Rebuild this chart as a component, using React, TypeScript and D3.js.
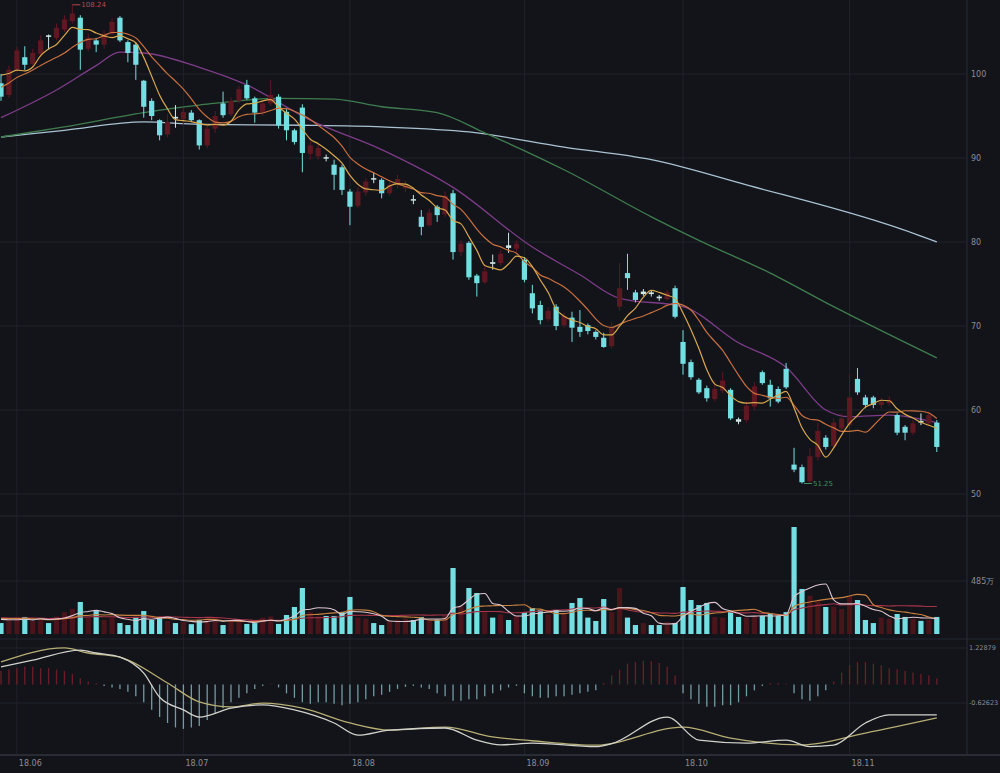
import React from "react";
import * as d3 from "d3";

const WIDTH = 1000;
const HEIGHT = 773;

const monthLabels = ["18.06", "18.07", "18.08", "18.09", "18.10", "18.11"];
const monthStartIndex = [2, 23, 44, 66, 86, 107];
const priceTicks = [100, 90, 80, 70, 60, 50];
const volumeTickValue = 485;
const volumeTickLabel = "485万";
const macdTicks = [1.22879, -0.62623];
const highLabel = "108.24";
const lowLabel = "51.25";

const priorCloses = [95.5, 96.2, 97.0, 97.8, 98.5, 99.5, 100.8, 101.5, 100.2];

const opens = [
  98.9, 97.5, 100.5, 102.0, 101.2, 102.4, 104.6, 104.3, 105.3, 106.3,
  106.7, 103.0, 104.0, 103.5, 104.8, 106.7, 103.8, 103.5, 99.2, 96.8,
  94.5, 92.8, 94.9, 94.6, 95.4, 94.5, 91.5, 93.5, 96.5, 95.2,
  96.8, 98.7, 97.1, 95.5, 96.5, 97.3, 95.5, 93.3, 96.0, 90.5,
  90.2, 90.1, 89.2, 88.9, 86.0, 84.3, 85.9, 87.6, 87.4, 85.8,
  86.8, 86.4, 85.1, 83.0, 82.0, 84.2, 83.3, 85.8, 78.8, 79.9,
  76.0, 75.2, 77.6, 77.5, 79.6, 79.2, 77.9, 73.9, 72.5, 70.8,
  72.3, 70.1, 71.0, 69.9, 70.1, 69.3, 68.6, 67.6, 72.3, 76.3,
  74.0, 73.8, 74.0, 73.5, 73.2, 74.5, 68.1, 65.7, 63.6, 62.6,
  61.3, 62.3, 62.4, 58.9, 58.8, 60.4, 64.5, 63.0, 62.5, 64.9,
  53.5, 53.2, 51.5, 54.4, 56.7, 55.7, 57.8, 58.2, 63.7, 61.5,
  61.5, 60.6, 60.8, 59.4, 58.0, 57.3, 58.7, 58.4, 58.5,
];
const closes = [
  97.3, 100.5, 102.8, 101.1, 102.5, 104.0, 104.5, 105.5, 106.5, 107.2,
  102.9, 104.3, 103.5, 104.8, 106.2, 104.0, 102.5, 101.1, 96.1, 95.0,
  92.7, 94.3, 94.7, 95.5, 94.5, 91.5, 93.5, 95.0, 95.1, 96.8,
  98.2, 97.1, 95.4, 96.5, 97.5, 93.9, 93.3, 91.9, 90.6, 91.5,
  91.2, 90.0, 88.0, 86.2, 84.2, 86.0, 87.2, 87.5, 85.8, 86.8,
  87.5, 86.9, 85.0, 81.8, 83.5, 83.2, 85.5, 78.8, 79.8, 75.8,
  75.1, 76.5, 77.4, 78.6, 79.3, 79.8, 75.5, 72.1, 70.7, 71.8,
  70.0, 71.2, 69.8, 69.3, 69.4, 68.7, 67.5, 69.8, 74.5, 75.7,
  73.1, 74.1, 73.8, 73.3, 74.0, 71.1, 65.5, 63.9, 62.1, 61.4,
  62.5, 63.5, 59.0, 58.6, 60.5, 62.8, 63.2, 61.4, 61.0, 62.7,
  52.9, 51.4, 54.5, 57.5, 55.6, 58.5, 59.0, 61.5, 62.1, 60.6,
  60.6, 61.0, 61.2, 57.3, 57.3, 58.4, 58.5, 59.4, 55.6,
];
const highs = [
  100.0, 101.0, 103.2, 103.3, 103.0, 104.6, 104.7, 106.0, 107.0, 108.24,
  107.0, 104.8, 104.3, 105.2, 106.6, 106.9, 104.0, 103.7, 99.3, 97.1,
  94.6, 95.2, 96.3, 96.0, 95.7, 94.6, 94.0, 95.6, 97.9, 97.2,
  98.6, 99.3, 97.3, 97.0, 99.3, 97.6, 95.8, 93.5, 96.4, 92.0,
  91.8, 90.4, 89.8, 89.2, 86.3, 86.5, 87.6, 88.3, 87.6, 87.2,
  88.0, 87.3, 85.6, 83.8, 84.0, 84.4, 86.0, 86.2, 80.2, 80.1,
  76.2, 77.0, 78.5, 79.0, 81.1, 80.2, 78.2, 74.9, 73.0, 72.2,
  72.6, 71.6, 71.7, 71.9, 70.3, 69.5, 69.2, 70.5, 77.5, 78.6,
  74.3, 74.4, 74.2, 73.7, 74.3, 74.8, 69.5, 66.0, 63.8, 62.9,
  63.5, 64.5, 62.6, 59.1, 61.0, 63.3, 64.7, 63.6, 62.8, 65.6,
  55.5, 53.5, 55.5, 58.5, 57.0, 59.0, 59.6, 64.2, 65.0, 61.8,
  61.7, 61.4, 61.6, 59.6, 58.2, 58.8, 59.6, 59.8, 58.8,
];
const lows = [
  96.8, 97.2, 100.2, 100.5, 100.8, 102.0, 102.9, 104.0, 105.0, 106.0,
  100.5, 102.7, 102.6, 103.0, 104.5, 103.8, 101.4, 99.3, 94.8, 94.5,
  92.1, 92.5, 93.6, 94.0, 94.3, 91.0, 91.2, 93.0, 94.8, 95.0,
  96.5, 96.9, 94.2, 95.0, 96.2, 93.5, 92.1, 91.6, 88.3, 89.8,
  89.8, 89.6, 86.2, 85.6, 82.0, 84.0, 85.5, 87.0, 85.2, 85.5,
  86.4, 85.9, 84.5, 80.8, 81.8, 82.4, 83.0, 77.9, 78.3, 75.5,
  73.5, 75.0, 76.7, 77.2, 78.7, 78.8, 75.2, 71.5, 70.2, 70.5,
  69.5, 69.8, 68.1, 68.7, 69.0, 68.4, 67.4, 67.3, 71.8, 74.3,
  72.8, 73.6, 73.5, 73.0, 73.0, 70.9, 64.2, 63.6, 61.9, 61.0,
  61.0, 62.0, 58.8, 58.3, 58.5, 60.0, 63.0, 60.4, 60.8, 62.5,
  52.6, 51.25, 51.3, 54.0, 55.3, 55.5, 57.5, 57.5, 61.8, 60.2,
  60.2, 60.2, 60.5, 57.0, 56.4, 57.0, 58.2, 58.1, 55.0,
];

const priorVolumes = [140, 160, 150, 130, 170, 150, 140, 160, 180, 150, 130, 140, 150, 160, 170, 150, 140, 130, 150];
const volumes = [
  100, 130, 140, 156, 120, 150, 100, 160, 200, 230,
  293, 150, 210, 130, 150, 100, 82, 156, 210, 128,
  156, 120, 100, 110, 90, 128, 140, 150, 82, 120,
  130, 92, 100, 150, 160, 92, 174, 247, 421, 200,
  160, 165, 165, 201, 339, 150, 140, 100, 82, 120,
  130, 140, 128, 156, 130, 128, 170, 604, 250, 421,
  375, 200, 150, 180, 128, 165, 201, 238, 220, 180,
  220, 180, 284, 329, 150, 119, 320, 200, 420, 150,
  82, 100, 82, 82, 110, 101, 430, 311, 265, 284,
  156, 150, 201, 156, 150, 160, 165, 192, 165, 200,
  979, 412, 350, 300, 247, 250, 230, 350, 311, 128,
  100, 150, 140, 183, 156, 140, 120, 130, 156,
];

const macdHist = [
  0.45, 0.5, 0.55, 0.6, 0.6, 0.55, 0.55, 0.5, 0.45, 0.35,
  0.2, 0.1, 0.05, -0.05, -0.1, -0.15, -0.25, -0.4, -0.6, -0.85,
  -1.1, -1.3, -1.45, -1.5, -1.45, -1.4, -1.2, -1.0, -0.8, -0.6,
  -0.45, -0.3, -0.15, -0.05, 0.02, -0.1, -0.3, -0.45, -0.6, -0.65,
  -0.6, -0.6, -0.65, -0.7, -0.65, -0.6, -0.5, -0.4, -0.35, -0.25,
  -0.15, -0.08, -0.05, -0.1, -0.15, -0.3, -0.4, -0.55, -0.55, -0.5,
  -0.5, -0.4, -0.3, -0.2, -0.1, -0.05, -0.3, -0.4, -0.45, -0.45,
  -0.4, -0.4, -0.35, -0.3, -0.25, -0.2, 0.05, 0.3, 0.5, 0.7,
  0.75, 0.8, 0.78, 0.72, 0.6, 0.3, -0.3, -0.5, -0.65, -0.75,
  -0.75, -0.7, -0.7, -0.6, -0.4, -0.2, -0.05, 0.05, 0.05, 0.02,
  -0.3, -0.5, -0.55, -0.4, -0.2, 0.1, 0.4, 0.65, 0.75, 0.75,
  0.7, 0.65, 0.55, 0.5, 0.45, 0.4, 0.35, 0.3, 0.2,
];

// Longer moving averages as [day index, value]
const ma20Points: [number, number][] = [
  [0, 94.8], [7, 98.1], [12, 101.0], [15, 102.6], [18, 102.5], [25, 100.8], [31, 98.7], [39, 94.5],
  [48, 91.0], [57, 86.5], [67, 79.4], [73, 76.1], [78, 73.3], [86, 72.3], [93, 68.0], [99, 65.1],
  [104, 60.0], [107, 59.2], [112, 59.4], [118, 58.5],
];
const ma60Points: [number, number][] = [
  [0, 92.5], [8, 93.7], [18, 95.4], [25, 96.3], [35, 97.1], [42, 97.0], [48, 96.1], [55, 95.4],
  [61, 93.0], [71, 88.6], [82, 83.0], [88, 80.2], [97, 76.3], [105, 72.3], [118, 66.2],
];
const ma120Points: [number, number][] = [
  [0, 92.5], [8, 93.3], [18, 94.3], [25, 94.0], [38, 93.9], [48, 93.7], [59, 93.1], [71, 91.3],
  [82, 89.8], [94, 86.8], [113, 81.7], [118, 80.0],
];
const difPoints: [number, number][] = [
  [0, 0.59], [4, 0.82], [10, 1.16], [12, 1.06], [15, 0.92], [18, 0.38], [20, -0.43], [23, -0.86],
  [25, -1.1], [29, -0.8], [33, -0.69], [37, -0.86], [42, -1.3], [45, -1.71], [49, -1.54], [56, -1.47],
  [60, -1.88], [63, -2.04], [67, -1.98], [75, -2.1], [77, -2.0], [84, -1.1], [88, -1.88], [94, -1.98],
  [99, -1.88], [102, -2.1], [105, -2.05], [109, -1.3], [112, -1.03], [118, -1.03],
];
const deaPoints: [number, number][] = [
  [0, 0.76], [8, 1.23], [11, 1.06], [15, 0.92], [21, 0.05], [25, -0.59], [29, -0.76], [33, -0.63],
  [38, -0.8], [44, -1.3], [49, -1.54], [56, -1.44], [62, -1.77], [67, -1.9], [75, -2.05], [86, -1.44],
  [92, -1.81], [101, -2.04], [109, -1.64], [118, -1.13],
];

const BG = "#13141a";
const GRID = "#20222b";
const CYAN = "#74dfe2";
const RED = "#5e1822";
const DOJI = "#cfe6e6";
const TEXT = "#8a8d96";
const FONT = "'DejaVu Sans', Roboto, sans-serif";

function movingAvg(prior: number[], arr: number[], n: number) {
  const all = [...prior, ...arr];
  const off = prior.length;
  return arr.map((_, i) => {
    const end = i + off + 1;
    const start = Math.max(0, end - n);
    return d3.mean(all.slice(start, end)) as number;
  });
}

export default function App() {
  const n = closes.length;
  const idx = d3.range(n);
  const x = d3.scaleLinear().domain([0, n - 1]).range([1, 936.8]);
  const yP = d3.scaleLinear().domain([50, 100]).range([494, 74]);
  const yV = d3.scaleLinear().domain([0, volumeTickValue]).range([634, 581]);
  const yM = d3.scaleLinear().domain([macdTicks[1], macdTicks[0]]).range([703, 648]);

  const ma5 = movingAvg(priorCloses, closes, 5);
  const ma10 = movingAvg(priorCloses, closes, 10);
  const vma5 = movingAvg(priorVolumes, volumes, 5);
  const vma10 = movingAvg(priorVolumes, volumes, 10);
  const vma20 = movingAvg(priorVolumes, volumes, 20);

  const lineIdx = d3.line<number>().x((_, i) => x(i)).y((d) => yP(d)).curve(d3.curveMonotoneX);
  const linePts = d3.line<[number, number]>().x((d) => x(d[0])).y((d) => yP(d[1])).curve(d3.curveMonotoneX);
  const vLine = d3.line<number>().x((_, i) => x(i)).y((d) => yV(d)).curve(d3.curveMonotoneX);
  const mLine = d3.line<[number, number]>().x((d) => x(d[0])).y((d) => yM(d[1])).curve(d3.curveMonotoneX);

  const bw = 5.2;
  const hiI = highs.indexOf(d3.max(highs) as number);
  const loI = lows.indexOf(d3.min(lows) as number);

  return (
    <div style={{ width: WIDTH, height: HEIGHT, background: BG }}>
      <style>{`body{margin:0;background:${BG};}`}</style>
      <svg width={WIDTH} height={HEIGHT} style={{ display: "block" }} fontFamily={FONT}>
        <defs>
          <clipPath id="plot">
            <rect x={0} y={0} width={967} height={HEIGHT} />
          </clipPath>
        </defs>
        <rect width={WIDTH} height={HEIGHT} fill={BG} />

        {/* grid */}
        {priceTicks.map((t) => (
          <line key={"pg" + t} x1={0} x2={967} y1={yP(t)} y2={yP(t)} stroke={GRID} strokeWidth={1} />
        ))}
        <line x1={0} x2={967} y1={yV(volumeTickValue)} y2={yV(volumeTickValue)} stroke={GRID} />
        {macdTicks.map((t) => (
          <line key={"mg" + t} x1={0} x2={967} y1={yM(t)} y2={yM(t)} stroke={GRID} />
        ))}
        {monthStartIndex.map((mi) => (
          <line key={"vg" + mi} x1={x(mi)} x2={x(mi)} y1={0} y2={755} stroke={GRID} strokeWidth={1} />
        ))}
        <line x1={0} x2={WIDTH} y1={516} y2={516} stroke="#25272f" />
        <line x1={0} x2={WIDTH} y1={639} y2={639} stroke="#25272f" />
        <line x1={0} x2={WIDTH} y1={755} y2={755} stroke="#2a2c35" strokeWidth={2} />
        <line x1={967} x2={967} y1={0} y2={755} stroke="#2a2c35" />

        {/* axis labels */}
        {priceTicks.map((t) => (
          <text key={"pt" + t} x={971} y={yP(t)} dy="0.35em" fontSize={8} fill={TEXT}>
            {t}
          </text>
        ))}
        <text x={971} y={yV(volumeTickValue)} dy="0.35em" fontSize={8} fill={TEXT}>
          {volumeTickLabel}
        </text>
        {macdTicks.map((t) => (
          <text key={"mt" + t} x={969} y={yM(t)} dy="0.35em" fontSize={6.5} fill={TEXT}>
            {t.toFixed(5)}
          </text>
        ))}
        {monthLabels.map((m, k) => (
          <text key={m} x={x(monthStartIndex[k]) + 2} y={766} fontSize={8} fill={TEXT}>
            {m}
          </text>
        ))}

        <g clipPath="url(#plot)">
          {/* long MAs */}
          <path d={linePts(ma120Points) || ""} fill="none" stroke="#a9c2d2" strokeWidth={1.3} />
          <path d={linePts(ma60Points) || ""} fill="none" stroke="#3f7d4e" strokeWidth={1.3} />
          <path d={linePts(ma20Points) || ""} fill="none" stroke="#7d3c88" strokeWidth={1.3} />

          {/* candles */}
          {idx.map((i) => {
            const o = opens[i];
            const c = closes[i];
            const up = c > o;
            const doji = Math.abs(o - c) < 0.35;
            const col = doji ? DOJI : up ? RED : CYAN;
            const top = yP(Math.max(o, c));
            const bot = yP(Math.min(o, c));
            return (
              <g key={"c" + i}>
                <line x1={x(i)} x2={x(i)} y1={yP(highs[i])} y2={yP(lows[i])} stroke={col} strokeWidth={1} />
                <rect x={x(i) - bw / 2} y={top} width={bw} height={Math.max(1.5, bot - top)} fill={col} />
              </g>
            );
          })}

          <path d={lineIdx(ma10) || ""} fill="none" stroke="#c9703f" strokeWidth={1.2} />
          <path d={lineIdx(ma5) || ""} fill="none" stroke="#d8a84c" strokeWidth={1.2} />

          {/* high / low marks */}
          <line x1={x(hiI)} x2={x(hiI) + 8} y1={yP(highs[hiI])} y2={yP(highs[hiI])} stroke="#b04848" />
          <text x={x(hiI) + 9} y={yP(highs[hiI])} dy="0.35em" fontSize={7} fill="#b84a4a">
            {highLabel}
          </text>
          <line x1={x(loI) + 2} x2={x(loI) + 10} y1={yP(lows[loI])} y2={yP(lows[loI])} stroke="#3f8f5a" />
          <text x={x(loI) + 11} y={yP(lows[loI])} dy="0.35em" fontSize={7} fill="#3f8f5a">
            {lowLabel}
          </text>

          {/* volume */}
          {idx.map((i) => {
            const up = closes[i] > opens[i];
            return (
              <rect
                key={"v" + i}
                x={x(i) - bw / 2}
                y={yV(volumes[i])}
                width={bw}
                height={yV(0) - yV(volumes[i])}
                fill={up ? "#4a141b" : CYAN}
              />
            );
          })}
          <path d={vLine(vma20) || ""} fill="none" stroke="#a8344a" strokeWidth={1.1} />
          <path d={vLine(vma10) || ""} fill="none" stroke="#c9823f" strokeWidth={1.1} />
          <path d={vLine(vma5) || ""} fill="none" stroke="#dcc6d0" strokeWidth={1.1} />

          {/* MACD */}
          {idx.map((i) => {
            const v = macdHist[i];
            return (
              <line
                key={"h" + i}
                x1={x(i)}
                x2={x(i)}
                y1={yM(0)}
                y2={yM(v)}
                stroke={v >= 0 ? "#6c1e28" : "#8cbcc4"}
                strokeWidth={1.3}
                opacity={v >= 0 ? 1 : 0.8}
              />
            );
          })}
          <path d={mLine(deaPoints) || ""} fill="none" stroke="#b6ae74" strokeWidth={1.3} />
          <path d={mLine(difPoints) || ""} fill="none" stroke="#d2d2cc" strokeWidth={1.3} />
        </g>
      </svg>
    </div>
  );
}
